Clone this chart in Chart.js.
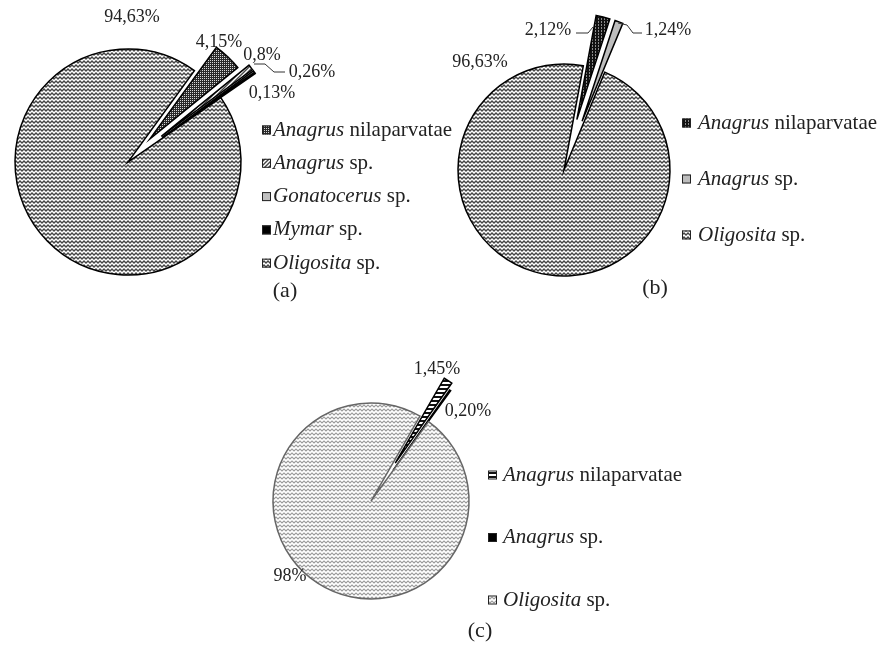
<!DOCTYPE html>
<html>
<head>
<meta charset="utf-8">
<script src="https://cdn.jsdelivr.net/npm/chart.js@4.4.0/dist/chart.umd.min.js"></script>
<style>
  body { margin: 0; background: #fff; }
  #wrap { position: relative; width: 881px; height: 653px; }
  canvas { position: absolute; left: 0; top: 0; }
</style>
</head>
<body>
<div id="wrap">
  <canvas id="chart-a" width="881" height="653"></canvas>
  <canvas id="chart-b" width="881" height="653"></canvas>
  <canvas id="chart-c" width="881" height="653"></canvas>
</div>
<script>
// data (a)
const namesA = ['Anagrus nilaparvatae', 'Anagrus sp.', 'Gonatocerus sp.', 'Mymar sp.', 'Oligosita sp.'];
const valuesA = [4.15, 0.8, 0.26, 0.13, 94.63];
const labelsA = ['4,15%', '0,8%', '0,26%', '0,13%', '94,63%'];

// data (b)
const namesB = ['Anagrus nilaparvatae', 'Anagrus sp.', 'Oligosita sp.'];
const valuesB = [2.12, 1.24, 96.63];
const labelsB = ['2,12%', '1,24%', '96,63%'];

// data (c)
const namesC = ['Anagrus nilaparvatae', 'Anagrus sp.', 'Oligosita sp.'];
const valuesC = [1.45, 0.20, 98];
const labelsC = ['1,45%', '0,20%', '98%'];

const W = 881, H = 653;
const serif = '"Liberation Serif", "Times New Roman", serif';

// fill patterns
function makePattern(kind) {
    const t = document.createElement('canvas');
    const c = t.getContext('2d');
    if (kind === 'zigzag' || kind === 'zigzagLight') {
        t.width = 4; t.height = 4;
        c.fillStyle = '#fff';
        c.fillRect(0, 0, 4, 4);
        c.strokeStyle = kind === 'zigzag' ? '#444' : '#9a9a9a';
        c.lineWidth = kind === 'zigzag' ? 1.3 : 1.1;
        c.beginPath();
        c.moveTo(-2, 3); c.lineTo(0, 1); c.lineTo(2, 3); c.lineTo(4, 1); c.lineTo(6, 3);
        c.stroke();
    } else if (kind === 'dots') {
        t.width = 2; t.height = 2;
        c.fillStyle = '#2a2a2a';
        c.fillRect(0, 0, 2, 2);
        c.fillStyle = '#d8d8d8';
        c.fillRect(0, 0, 1, 1);
    } else if (kind === 'diag') {
        t.width = 4; t.height = 4;
        c.fillStyle = '#fff';
        c.fillRect(0, 0, 4, 4);
        c.strokeStyle = '#444';
        c.lineWidth = 1.4;
        c.beginPath();
        c.moveTo(-1, 5); c.lineTo(5, -1);
        c.moveTo(-1, 1); c.lineTo(1, -1);
        c.moveTo(3, 5); c.lineTo(5, 3);
        c.stroke();
    } else if (kind === 'vlines') {
        t.width = 3; t.height = 3;
        c.fillStyle = '#111';
        c.fillRect(0, 0, 3, 3);
        c.fillStyle = '#8a8a8a';
        c.fillRect(1, 0, 1, 2);
    } else if (kind === 'hstripes') {
        t.width = 4; t.height = 4;
        c.fillStyle = '#fff';
        c.fillRect(0, 0, 4, 4);
        c.fillStyle = '#111';
        c.fillRect(0, 0, 4, 2);
    }
    return c.createPattern(t, 'repeat');
}

// explode slices, write labels, leaders, legend and caption
function decor(cfg) {
    return {
        id: 'decor',
        afterDatasetUpdate(chart, args) {
            args.meta.data.forEach((arc, i) => {
                const d = cfg.explode[i] || 0;
                const mid = (arc.startAngle + arc.endAngle) / 2;
                arc.x += Math.cos(mid) * d;
                arc.y += Math.sin(mid) * d;
            });
        },
        afterDraw(chart) {
            const ctx = chart.ctx;
            const ds = chart.data.datasets[0];
            ctx.save();
            // leader lines
            ctx.strokeStyle = '#333';
            ctx.lineWidth = 1;
            (cfg.leaders || []).forEach(pts => {
                ctx.beginPath();
                pts.forEach((p, k) => k ? ctx.lineTo(p[0], p[1]) : ctx.moveTo(p[0], p[1]));
                ctx.stroke();
            });
            // percent labels
            ctx.fillStyle = '#222';
            ctx.font = '18px ' + serif;
            ctx.textAlign = 'center';
            ctx.textBaseline = 'middle';
            cfg.labels.forEach((txt, i) => {
                const p = cfg.labelPos[i];
                ctx.fillText(txt, p[0], p[1]);
            });
            // legend
            ctx.textAlign = 'left';
            const lg = cfg.legend;
            chart.data.labels.forEach((name, i) => {
                const y = lg.y + i * lg.gap;
                const x = lg.x;
                ctx.fillStyle = ds.backgroundColor[i];
                ctx.fillRect(x, y - 4.5, 9, 9);
                ctx.strokeStyle = '#222';
                ctx.lineWidth = 1;
                ctx.strokeRect(x + 0.5, y - 4, 8, 8);
                const sp = name.indexOf(' ');
                const genus = name.slice(0, sp);
                const rest = name.slice(sp);
                ctx.fillStyle = '#222';
                ctx.font = 'italic 21px ' + serif;
                ctx.fillText(genus, x + lg.textGap, y);
                const w = ctx.measureText(genus).width;
                ctx.font = '21px ' + serif;
                ctx.fillText(rest, x + lg.textGap + w, y);
            });
            // caption
            ctx.textAlign = 'center';
            ctx.font = '22px ' + serif;
            ctx.fillText(cfg.caption[0], cfg.caption[1], cfg.caption[2]);
            ctx.restore();
        }
    };
}

function pieChart(id, names, values, fills, borders, cfg) {
    const s = 40;
    return new Chart(document.getElementById(id), {
        type: 'pie',
        data: {
            labels: names,
            datasets: [{
                data: values,
                backgroundColor: fills,
                borderColor: borders,
                borderWidth: cfg.borderWidth || 1.5,
                borderJoinStyle: 'miter',
                radius: cfg.radius
            }]
        },
        options: {
            responsive: false,
            animation: false,
            events: [],
            rotation: cfg.rotation,
            radius: cfg.radius,
            layout: {
                padding: {
                    left: cfg.cx - s, right: W - cfg.cx - s,
                    top: cfg.cy - s, bottom: H - cfg.cy - s
                }
            },
            plugins: { legend: { display: false }, tooltip: { enabled: false } }
        },
        plugins: [decor(cfg)]
    });
}

const zig = makePattern('zigzag');
const zigLight = makePattern('zigzagLight');

pieChart('chart-a', namesA, valuesA,
    [makePattern('dots'), makePattern('diag'), '#c0c0c0', '#000', zig],
    ['#000', '#000', '#000', '#000', '#000'],
    {
        cx: 128, cy: 162, radius: 113, rotation: 36,
        explode: [32, 42, 42, 42, 0],
        labels: labelsA,
        labelPos: [[219, 42], [262, 55], [312, 72], [272, 93], [132, 17]],
        leaders: [[[254, 64], [265, 64], [274, 72], [285, 72]]],
        legend: { x: 262, y: 130, gap: 33.3, textGap: 11 },
        caption: ['(a)', 285, 291]
    });

pieChart('chart-b', namesB, valuesB,
    [makePattern('vlines'), '#bdbdbd', zig],
    ['#000', '#000', '#000'],
    {
        cx: 564, cy: 170, radius: 106, rotation: 10.5,
        explode: [52, 52, 0],
        labels: labelsB,
        labelPos: [[548, 30], [668, 30], [480, 62]],
        leaders: [[[576, 33], [588, 33], [593, 27]], [[618, 23], [627, 25], [633, 33], [642, 33]]],
        legend: { x: 682, y: 123, gap: 56, textGap: 16 },
        caption: ['(b)', 655, 288]
    });

pieChart('chart-c', namesC, valuesC,
    [makePattern('hstripes'), '#000', zigLight],
    ['#000', '#000', '#666'],
    {
        cx: 371, cy: 501, radius: 98, rotation: 30,
        explode: [45, 38, 0],
        labels: labelsC,
        labelPos: [[437, 369], [468, 411], [290, 576]],
        leaders: [],
        legend: { x: 488, y: 475, gap: 62.5, textGap: 15 },
        caption: ['(c)', 480, 631]
    });
</script>
</body>
</html>
